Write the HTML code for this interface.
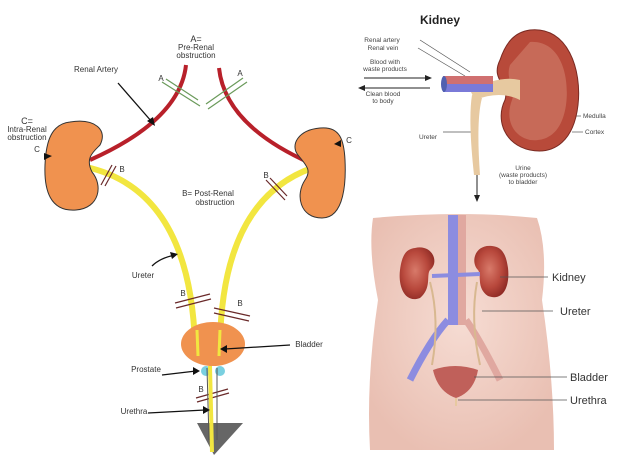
<!DOCTYPE html>
<html><head><meta charset="utf-8"><style>
body{margin:0;background:#fff}
svg{display:block;font-family:"Liberation Sans",sans-serif}
</style></head><body>
<svg width="620" height="464" viewBox="0 0 620 464" xmlns="http://www.w3.org/2000/svg">
<defs>
<radialGradient id="body" cx="50%" cy="45%" r="60%"><stop offset="0" stop-color="#f6dcd3"/><stop offset="1" stop-color="#e9bfb2"/></radialGradient>
<radialGradient id="kid" cx="45%" cy="45%" r="60%"><stop offset="0" stop-color="#d87a6a"/><stop offset="0.6" stop-color="#b8483c"/><stop offset="1" stop-color="#8e2a24"/></radialGradient>
</defs>
<!-- LEFT DIAGRAM -->
<g font-size="8" fill="#333" text-anchor="middle">
<text x="196" y="42" font-size="9">A=</text>
<text x="196" y="50">Pre-Renal</text>
<text x="196" y="58">obstruction</text>
<text x="96" y="72">Renal Artery</text>
<text x="27" y="124" font-size="9">C=</text>
<text x="27" y="132">Intra-Renal</text>
<text x="27" y="140">obstruction</text>
<text x="37" y="152">C</text>
<text x="208" y="196">B= Post-Renal</text>
<text x="215" y="205">obstruction</text>
<text x="143" y="278">Ureter</text>
<text x="309" y="347">Bladder</text>
<text x="146" y="372">Prostate</text>
<text x="134" y="414">Urethra</text>
<text x="161" y="81">A</text><text x="240" y="76">A</text>
<text x="122" y="172">B</text><text x="266" y="178">B</text>
<text x="183" y="296">B</text><text x="240" y="306">B</text>
<text x="201" y="392">B</text>
<text x="349" y="143">C</text>
</g>
<!-- arteries -->
<path d="M186 65 Q180 120 90 160" stroke="#b8202a" stroke-width="4" fill="none"/>
<path d="M219 68 Q225 125 310 163" stroke="#b8202a" stroke-width="4" fill="none"/>
<g stroke="#6a9a5a" stroke-width="1.2">
<line x1="162" y1="82" x2="200" y2="106"/><line x1="166" y1="79" x2="198" y2="100"/>
<line x1="247" y1="82" x2="208" y2="109"/><line x1="243" y1="78" x2="206" y2="104"/>
</g>
<!-- ureters -->
<path d="M86 167 Q190 190 195 345" stroke="#f2e640" stroke-width="6" fill="none"/>
<path d="M312 168 Q222 200 220 345" stroke="#f2e640" stroke-width="6" fill="none"/>
<!-- kidneys -->
<path d="M70 122 C95 118 108 130 100 145 C93 152 85 158 92 172 C103 185 100 208 76 210 C50 212 44 190 45 165 C46 140 52 124 70 122Z" fill="#f0924f" stroke="#333" stroke-width="1"/>
<path d="M320 128 C298 130 290 145 298 155 C306 165 312 170 305 180 C295 195 300 218 322 218 C345 218 346 180 345 160 C344 140 340 126 320 128Z" fill="#f0924f" stroke="#333" stroke-width="1"/>
<!-- B marks -->
<g stroke="#6a2a2a" stroke-width="1.2">
<line x1="101" y1="185" x2="112" y2="165"/><line x1="105" y1="186" x2="116" y2="166"/>
<line x1="266" y1="180" x2="285" y2="200"/><line x1="270" y1="178" x2="287" y2="196"/>
<line x1="175" y1="303" x2="210" y2="294"/><line x1="176" y1="308" x2="211" y2="299"/>
<line x1="214" y1="308" x2="250" y2="316"/><line x1="214" y1="313" x2="249" y2="321"/>
<line x1="196" y1="398" x2="228" y2="389"/><line x1="197" y1="402" x2="229" y2="393"/>
</g>
<!-- bladder -->
<ellipse cx="213" cy="344" rx="32" ry="22" fill="#f0924f"/>
<line x1="197" y1="330" x2="198" y2="356" stroke="#f2e640" stroke-width="3"/>
<line x1="220" y1="330" x2="219" y2="356" stroke="#f2e640" stroke-width="3"/>
<ellipse cx="206" cy="371" rx="5" ry="5" fill="#7ad0e0"/><ellipse cx="220" cy="371" rx="5" ry="5" fill="#7ad0e0"/>
<path d="M197 423 L243 423 L214 455Z" fill="#666"/>
<line x1="210" y1="366" x2="212" y2="452" stroke="#f2e640" stroke-width="4"/>
<line x1="207" y1="368" x2="209" y2="440" stroke="#555" stroke-width="1"/>
<line x1="217" y1="368" x2="217" y2="440" stroke="#555" stroke-width="1"/>
<!-- pointer arrows -->
<g stroke="#111" stroke-width="1.3" fill="none">
<path d="M118 83 L152 122"/><path d="M152 266 Q160 258 175 255"/>
<path d="M290 345 L225 349"/><path d="M162 375 L196 371"/><path d="M148 413 L205 410"/>
</g>
<g fill="#111">
<path d="M155 126 L147 121 L153 117Z"/><path d="M178 254 L170 252 L172 259Z"/>
<path d="M220 349 L227 345 L227 353Z"/><path d="M200 371 L193 367 L193 375Z"/>
<path d="M210 410 L203 406 L203 414Z"/><path d="M52 156 L44 153 L44 160Z"/><path d="M334 144 L341 140 L341 147Z"/>
</g>
<!-- RIGHT TOP: Kidney -->
<text x="440" y="24" font-size="12" font-weight="bold" text-anchor="middle" fill="#222">Kidney</text>
<g font-size="6.5" fill="#444" text-anchor="middle">
<text x="382" y="42">Renal artery</text><text x="383" y="50">Renal vein</text>
<text x="385" y="64">Blood with</text><text x="385" y="71">waste products</text>
<text x="383" y="96">Clean blood</text><text x="383" y="103">to body</text>
<text x="428" y="139">Ureter</text>
<text x="523" y="170">Urine</text><text x="523" y="177">(waste products)</text><text x="523" y="184">to bladder</text>
</g>
<g font-size="6.5" fill="#444">
<text x="583" y="118">Medulla</text><text x="585" y="134">Cortex</text>
</g>
<g stroke="#555" stroke-width="0.7">
<line x1="420" y1="40" x2="470" y2="72"/><line x1="418" y1="48" x2="465" y2="76"/>
<line x1="443" y1="132" x2="474" y2="132"/><line x1="574" y1="116" x2="581" y2="116"/><line x1="572" y1="132" x2="583" y2="132"/>
</g>
<line x1="364" y1="78" x2="428" y2="78" stroke="#222" stroke-width="1"/><path d="M432 78 L425 75 L425 81Z" fill="#222"/>
<line x1="430" y1="88" x2="364" y2="88" stroke="#222" stroke-width="1"/><path d="M358 88 L365 85 L365 91Z" fill="#222"/>
<line x1="477" y1="150" x2="477" y2="196" stroke="#222"/><path d="M477 202 L474 195 L480 195Z" fill="#222"/>
<path d="M530 30 C568 26 582 70 578 105 C574 140 555 155 530 150 C505 145 495 120 505 100 C510 85 490 80 500 60 C506 42 515 32 530 30Z" fill="#b84a3a" stroke="#7a2a22"/>
<path d="M530 42 C560 40 570 75 566 105 C562 132 548 142 530 140 C512 136 505 118 512 100 C516 88 505 80 510 65Z" fill="#c76a58"/>
<path d="M470 90 Q500 75 520 80 L520 100 Q500 90 475 100Z" fill="#e7c9a0"/>
<rect x="443" y="76" width="50" height="8" fill="#d07070"/>
<rect x="443" y="84" width="50" height="8" fill="#7a7ad8"/>
<ellipse cx="444" cy="84" rx="3" ry="8" fill="#5060b0"/>
<path d="M472 95 Q468 120 474 175 L480 175 Q476 120 482 98Z" fill="#e7c9a0"/>
<!-- RIGHT BOTTOM: body -->
<path d="M373 218 Q460 210 537 218 Q548 250 542 300 Q554 380 554 450 L370 450 Q366 380 378 300 Q368 250 373 218Z" fill="url(#body)"/>
<rect x="448" y="215" width="10" height="110" fill="#8c8ce0"/>
<rect x="458" y="215" width="8" height="110" fill="#e0a8a0"/>
<path d="M448 320 Q430 340 410 380" stroke="#8c8ce0" stroke-width="7" fill="none"/>
<path d="M466 320 Q480 340 500 380" stroke="#e0a8a0" stroke-width="7" fill="none"/>
<path d="M415 248 C432 244 440 262 430 270 C426 275 432 288 420 298 C404 304 398 285 400 270 C402 255 406 249 415 248Z" fill="url(#kid)"/>
<path d="M492 246 C475 244 470 262 478 270 C482 275 476 288 488 296 C504 302 510 285 508 268 C506 254 502 247 492 246Z" fill="url(#kid)"/>
<line x1="432" y1="276" x2="480" y2="274" stroke="#8c8ce0" stroke-width="4"/>
<path d="M430 282 Q440 320 432 365" stroke="#d8b890" stroke-width="2" fill="none"/>
<path d="M477 282 Q470 320 480 365" stroke="#d8b890" stroke-width="2" fill="none"/>
<path d="M433 370 Q455 362 478 370 Q474 392 456 398 Q438 392 433 370Z" fill="#c0605a"/>
<line x1="456" y1="398" x2="456" y2="406" stroke="#e7c9a0" stroke-width="2"/>
<g stroke="#555" stroke-width="0.8">
<line x1="500" y1="277" x2="548" y2="277"/><line x1="482" y1="311" x2="553" y2="311"/>
<line x1="474" y1="377" x2="567" y2="377"/><line x1="458" y1="400" x2="567" y2="400"/>
</g>
<g font-size="11" fill="#333">
<text x="552" y="281">Kidney</text><text x="560" y="315">Ureter</text>
<text x="570" y="381">Bladder</text><text x="570" y="404">Urethra</text>
</g>
</svg>
</body></html>
